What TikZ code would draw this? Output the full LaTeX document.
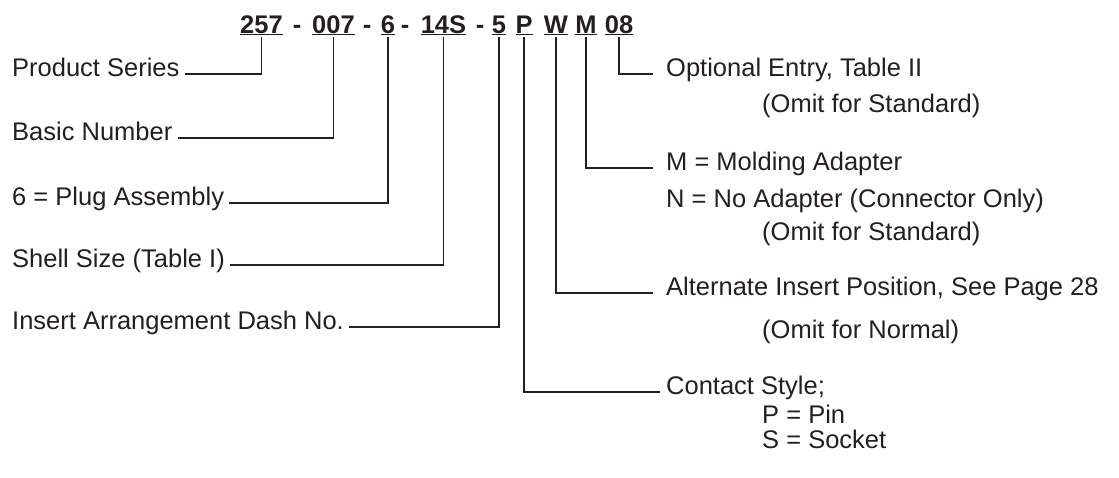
\documentclass[tikz,border=0pt]{standalone}
\usepackage{fontspec}
\setmainfont{Liberation Sans}
\usepackage{tikz}
\usetikzlibrary{positioning}
\definecolor{ink}{HTML}{231F20}
\newcommand{\bigtext}{\fontsize{25.5}{30}\selectfont}
\tikzset{
  % Segmenti del codice
  seg/.style={font=\bigtext\bfseries, inner sep=2pt, anchor=base},
  % Etichette
  lbl/.style={inner ysep=0pt, text height=1.5ex, text depth=.5ex},
  lbl left/.style={lbl, anchor=west, inner xsep=5pt},
  lbl right/.style={lbl, anchor=west, inner xsep=13pt},
  note/.style={anchor=base west, inner sep=0pt},
  % Linee di richiamo
  lead/.style={draw=ink, line width=1.8pt}
}

\begin{document}
\begin{tikzpicture}[x=1pt, y=-1pt, font=\bigtext, text=ink]
  \useasboundingbox (0,0) rectangle (1119,477);
  % Codice
  \node[seg] (s257) at (261.5,33) {\underline{257}};
  \node[seg] (d1) at (297,33) {-};
  \node[seg] (s007) at (333.5,33) {\underline{007}};
  \node[seg] (d2) at (367,33) {-};
  \node[seg] (s6) at (388,33) {\underline{6}};
  \node[seg] (d3) at (405,33) {-};
  \node[seg] (s14S) at (443.5,33) {\underline{14S}};
  \node[seg] (d4) at (480,33) {-};
  \node[seg] (s5) at (499,33) {\underline{5}};
  \node[seg] (sP) at (524,33) {\underline{P}};
  \node[seg] (sW) at (556,33) {\underline{W}};
  \node[seg] (sM) at (586,33) {\underline{M}};
  \node[seg] (s08) at (619,33) {\underline{08}};
  % Etichette a sinistra
  \node[lbl left] (series) at (7,74) {Product Series};
  \node[lbl left] (basic) at (7,138) {Basic Number};
  \node[lbl left] (plug) at (7,203) {6 = Plug Assembly};
  \node[lbl left] (shell) at (7,265) {Shell Size (Table I)};
  \node[lbl left] (insert) at (7,327) {Insert Arrangement Dash No.};
  % Etichette a destra
  \node[lbl right] (entry) at (653,74) {Optional Entry, Table II};
  \node[note] (entryNote) at (762,112) {(Omit for Standard)};
  \node[lbl right] (adapter) at (653,168) {M = Molding Adapter};
  \node[note] (adapterN) at (666,207) {N = No Adapter (Connector Only)};
  \node[note] (adapterNote) at (762,240) {(Omit for Standard)};
  \node[lbl right] (altpos) at (653,293) {Alternate Insert Position, See Page 28};
  \node[note] (altposNote) at (762,338) {(Omit for Normal)};
  \node[lbl right, inner xsep=6pt] (contact) at (660,392) {Contact Style;};
  \node[note] (contactP) at (762,423) {P = Pin};
  \node[note] (contactS) at (762,448) {S = Socket};
  % Richiami
  \draw[lead] (s257.south) |- (series.east);
  \draw[lead] (s007.south) |- (basic.east);
  \draw[lead] (s6.south) |- (plug.east);
  \draw[lead] (s14S.south) |- (shell.east);
  \draw[lead] (s5.south) |- (insert.east);
  \draw[lead] (sP.south) |- (contact.west);
  \draw[lead] (sW.south) |- (altpos.west);
  \draw[lead] (sM.south) |- (adapter.west);
  \draw[lead] (s08.south) |- (entry.west);
\end{tikzpicture}
\end{document}
